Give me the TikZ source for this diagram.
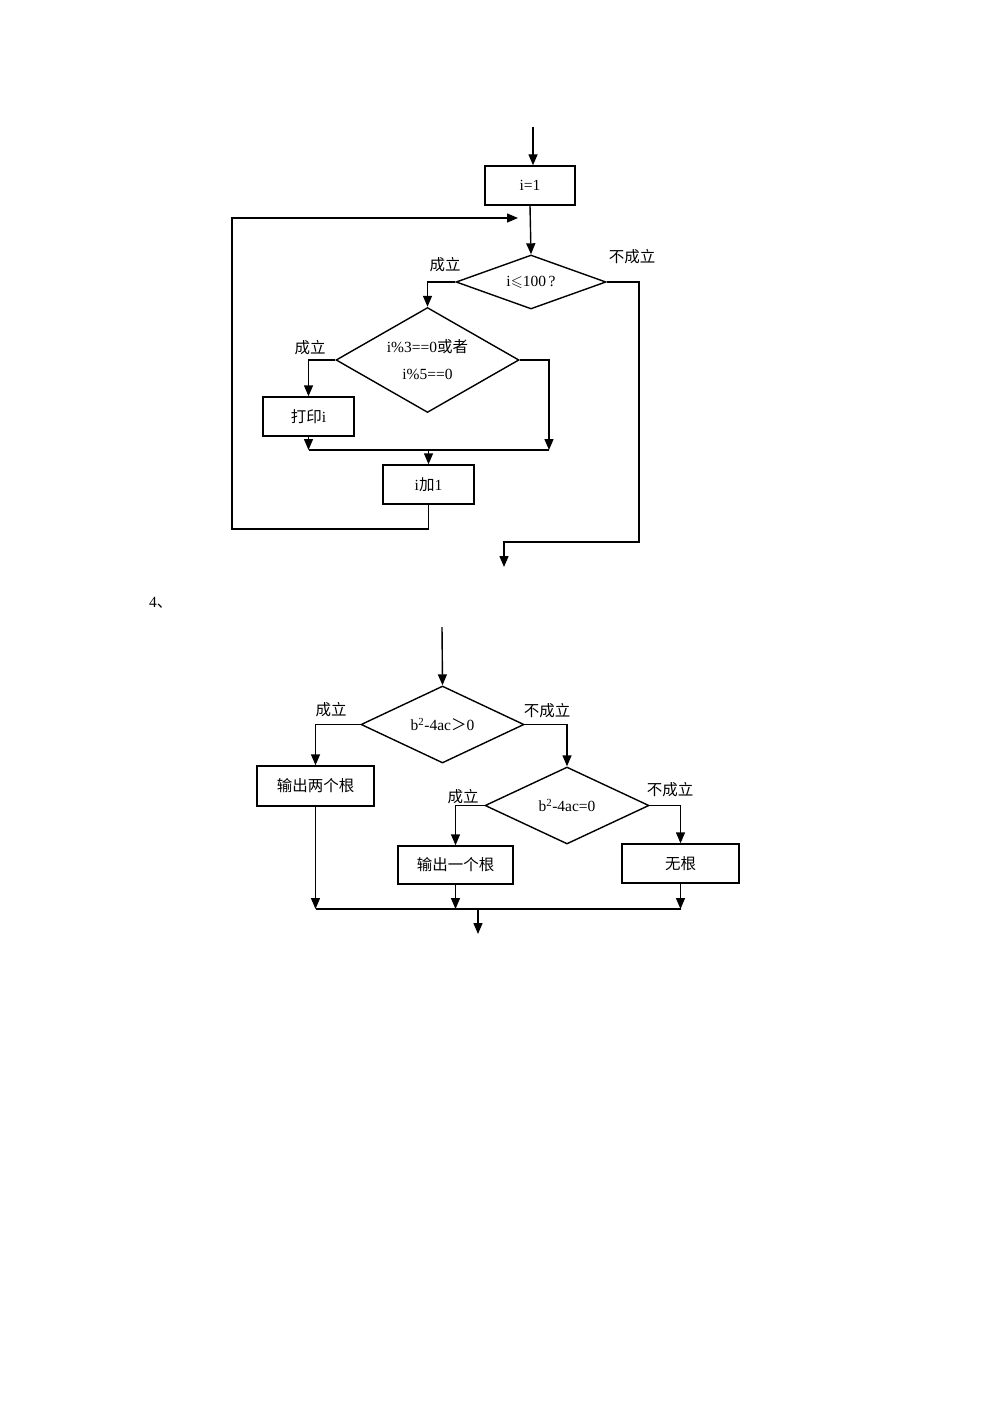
\documentclass[tikz,border=0pt]{standalone}
\usepackage{fontspec}
\usepackage{amssymb}
\setmainfont{Liberation Serif}
\newfontfamily\cjk{Noto Sans CJK SC}
\usetikzlibrary{arrows.meta,shapes.geometric}
\begin{document}
\begin{tikzpicture}[x=1pt,y=-1pt,
  every node/.style={font=\fontsize{15.5}{18}\selectfont},
  ln/.style={line width=1.4pt},
  arr/.style={ln,-{Triangle[length=11pt,width=9pt]}},
  procbox/.style={draw,line width=1.4pt,rectangle,inner sep=0pt},
  decision/.style={draw,line width=1.4pt,diamond,inner sep=0pt,aspect=2},
  lbl/.style={inner sep=0pt}]
\useasboundingbox (0,0) rectangle (993,1404);
% ---------- first flowchart ----------
\coordinate (top1) at (533,127);
\node[procbox,minimum width=90pt,minimum height=39pt] (s) at (530,185.5) {i=1};
\node[decision,minimum width=150pt,minimum height=54pt] (d1) at (531,282) {i$\leqslant$100\,?};
\node[decision,minimum width=183pt,minimum height=105pt,align=center,font=\fontsize{15.5}{27}\selectfont] (d2) at (427.5,360) {\raisebox{-2pt}{i\%3==0{\cjk 或者}}\\[0pt]\raisebox{-2pt}{i\%5==0}};
\node[procbox,minimum width=91pt,minimum height=39pt] (p) at (308.5,416.5) {{\cjk 打印}i};
\node[procbox,minimum width=91pt,minimum height=39pt] (inc) at (428.5,484.5) {i{\cjk 加}1};
\coordinate (j1) at (549,450);
\coordinate (lb) at (232,529);
\coordinate (lt) at (232,218);
\coordinate (lend) at (518,218);
\coordinate (ex1) at (639,542);
\coordinate (exit1) at (504,567);
\node[lbl] (l1) at (445,265) {\cjk 成立};
\node[lbl] (l2) at (632,257) {\cjk 不成立};
\node[lbl] (l3) at (310,348) {\cjk 成立};

\draw[arr] (top1) -- (top1 |- s.north);
\draw[arr] (s.south) -- (d1.north);
\draw[arr] (d1.west) -| (d2.north);
\draw[arr] (d2.west) -| (p.north);
\draw[arr] (d2.east) -| (j1);
\draw[arr] (p.south) -- (p.south |- j1);
\draw[ln] (p.south |- j1) -- (j1);
\draw[arr] (inc.north |- j1) -- (inc.north);
\draw[arr] (inc.south) |- (lb) -- (lt) -- (lend);
\draw[arr] (d1.east) -| (ex1) -| (exit1);

\node[lbl,anchor=west] (n4) at (149,603) {4{\cjk 、}};

% ---------- second flowchart ----------
\coordinate (top2) at (442,627);
\node[decision,minimum width=163pt,minimum height=77pt] (d3) at (442.5,724.5) {b\textsuperscript{2}-4ac{\cjk ＞}0};
\node[procbox,minimum width=117pt,minimum height=40pt] (b1) at (315.5,786) {\cjk 输出两个根};
\node[decision,minimum width=164pt,minimum height=77pt] (d4) at (567,805.5) {b\textsuperscript{2}-4ac=0};
\node[procbox,minimum width=115pt,minimum height=38pt] (b2) at (455.5,865) {\cjk 输出一个根};
\node[procbox,minimum width=117pt,minimum height=39pt] (b3) at (680.5,863.5) {\cjk 无根};
\coordinate (jb) at (478,909);
\coordinate (out2) at (478,934);
\node[lbl] (l4) at (331,710) {\cjk 成立};
\node[lbl] (l5) at (547,711) {\cjk 不成立};
\node[lbl] (l6) at (463,797) {\cjk 成立};
\node[lbl] (l7) at (670,790) {\cjk 不成立};

\draw[arr] (top2) -- (d3.north);
\draw[arr] (d3.west) -| (b1.north);
\draw[arr] (d3.east) -| (d4.north);
\draw[arr] (d4.west) -| (b2.north);
\draw[arr] (d4.east) -| (b3.north);
\draw[arr] (b1.south) -- (b1.south |- jb);
\draw[arr] (b2.south) -- (b2.south |- jb);
\draw[arr] (b3.south) -- (b3.south |- jb);
\draw[ln] (b1.south |- jb) -- (b3.south |- jb);
\draw[arr] (jb) -- (out2);
\end{tikzpicture}
\end{document}
